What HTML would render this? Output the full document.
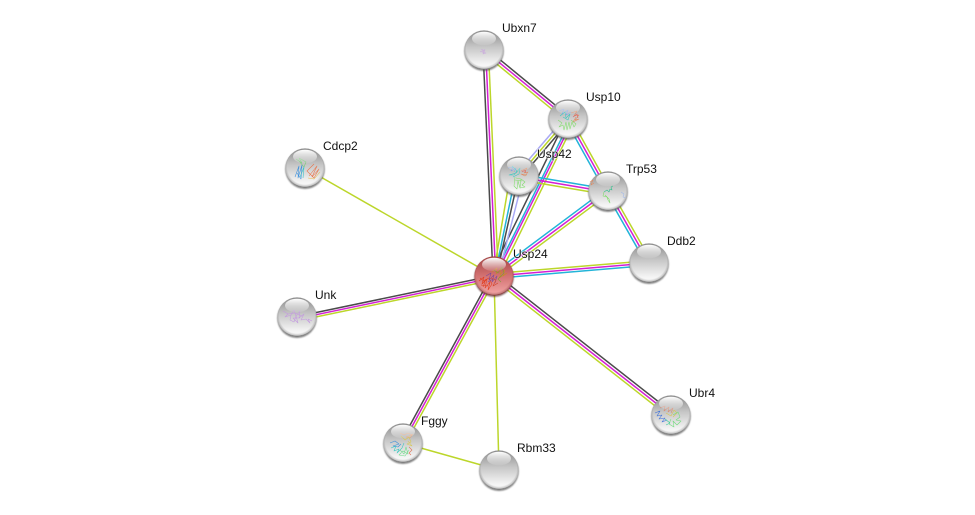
<!DOCTYPE html>
<html><head><meta charset="utf-8">
<style>
html,body{margin:0;padding:0;background:#fff}
svg{display:block}
text{font-family:"Liberation Sans",sans-serif;font-size:12px;fill:#111;paint-order:stroke;stroke:#fff;stroke-width:1.5px;stroke-opacity:.75}
.k,.m,.g,.c,.p{fill:none;stroke-width:1.5}
.k{stroke:#4a4a4a}.m{stroke:#d41fd4}.g{stroke:#bcd62a}.c{stroke:#22b4d8}.p{stroke:#a9a9f5}
.s{fill:none;stroke-width:.55;stroke-linejoin:round}
</style></head><body>
<svg width="975" height="515" viewBox="0 0 975 515" xmlns="http://www.w3.org/2000/svg">
<defs>
<filter id="bl" x="-20%" y="-20%" width="140%" height="140%"><feGaussianBlur stdDeviation=".8"/></filter>
<linearGradient id="bg" x1="0" y1="0" x2="0" y2="1"><stop offset="0" stop-color="#8c8c8c"/><stop offset=".42" stop-color="#c6c6c6"/><stop offset=".85" stop-color="#f4f4f4"/><stop offset="1" stop-color="#fafafa"/></linearGradient>
<linearGradient id="rbg" x1="0" y1="0" x2="0" y2="1"><stop offset="0" stop-color="#a34545"/><stop offset=".45" stop-color="#cf6d6d"/><stop offset="1" stop-color="#f4a8a8"/></linearGradient>
<radialGradient id="rim" cx=".5" cy=".46" r=".54"><stop offset=".84" stop-color="#555" stop-opacity="0"/><stop offset=".94" stop-color="#555" stop-opacity=".3"/><stop offset="1" stop-color="#444" stop-opacity=".95"/></radialGradient>
<radialGradient id="rrim" cx=".5" cy=".46" r=".54"><stop offset=".84" stop-color="#622" stop-opacity="0"/><stop offset=".94" stop-color="#622" stop-opacity=".3"/><stop offset="1" stop-color="#511" stop-opacity=".95"/></radialGradient>
<linearGradient id="hl" x1="0" y1="0" x2="0" y2="1"><stop offset="0" stop-color="#fff" stop-opacity="1"/><stop offset="1" stop-color="#fff" stop-opacity=".08"/></linearGradient>
<g id="b"><circle cy="1.2" r="19.8" fill="#444" opacity=".65" filter="url(#bl)"/><circle r="19.6" fill="url(#bg)"/><circle r="19.6" fill="url(#rim)"/></g>
<g id="rb"><circle cy="1.2" r="19.8" fill="#522" opacity=".65" filter="url(#bl)"/><circle r="19.6" fill="url(#rbg)"/><circle r="19.6" fill="url(#rrim)"/></g>
<g id="h"><ellipse cy="-11.5" rx="12" ry="6.8" fill="url(#hl)"/></g>
</defs>
<rect width="975" height="515" fill="#fff"/>

<!-- Usp24-Ubxn7 -->
<line class="k" x1="483" y1="50" x2="493" y2="276"/>
<line class="m" x1="485.7" y1="50" x2="495.7" y2="276"/>
<line class="g" x1="488.4" y1="50" x2="498.4" y2="276"/>
<!-- Ubxn7-Usp10 -->
<line class="k" x1="485.7" y1="47.9" x2="569.7" y2="116.9"/>
<line class="m" x1="484" y1="50" x2="568" y2="119"/>
<line class="g" x1="482.3" y1="52.1" x2="566.3" y2="121.1"/>
<!-- Usp10-Usp42 -->
<line class="p" x1="563.7" y1="119" x2="514.7" y2="176"/>
<line class="g" x1="567.4" y1="119" x2="518.4" y2="176"/>
<line class="k" x1="571" y1="119" x2="522" y2="176"/>
<!-- Usp10-Usp24 -->
<line class="k" x1="565.3" y1="121" x2="492.7" y2="270"/>
<line class="c" x1="569.6" y1="122" x2="496.6" y2="270"/>
<line class="m" x1="571.9" y1="122" x2="498.6" y2="270"/>
<line class="g" x1="574.5" y1="122" x2="502" y2="270"/>
<!-- Usp42-Usp24 -->
<line class="g" x1="509.4" y1="180" x2="494.1" y2="270"/>
<line class="c" x1="514.6" y1="180" x2="496" y2="270"/>
<line class="k" x1="517.8" y1="180" x2="497.7" y2="270"/>
<line class="p" x1="522.6" y1="180" x2="499.7" y2="270"/>
<!-- Usp10-Trp53 -->
<line class="c" x1="565.6" y1="120.3" x2="605.6" y2="192.3"/>
<line class="m" x1="568" y1="119" x2="608" y2="191"/>
<line class="g" x1="570.4" y1="117.7" x2="610.4" y2="189.7"/>
<!-- Usp42-Trp53 -->
<line class="c" x1="519.4" y1="174.3" x2="608.4" y2="189.3"/>
<line class="m" x1="519" y1="177" x2="608" y2="192"/>
<line class="g" x1="518.6" y1="179.7" x2="607.6" y2="194.7"/>
<!-- Usp24-Trp53 -->
<line class="c" x1="492.4" y1="273.8" x2="606.4" y2="188.8"/>
<line class="m" x1="494" y1="276" x2="608" y2="191"/>
<line class="g" x1="495.6" y1="278.2" x2="609.6" y2="193.2"/>
<!-- Trp53-Ddb2 -->
<line class="c" x1="605.6" y1="192.3" x2="646.6" y2="264.3"/>
<line class="m" x1="608" y1="191" x2="649" y2="263"/>
<line class="g" x1="610.4" y1="189.7" x2="651.4" y2="261.7"/>
<!-- Usp24-Ddb2 -->
<line class="g" x1="494" y1="273.6" x2="649" y2="260.6"/>
<line class="m" x1="494" y1="276" x2="649" y2="263"/>
<line class="c" x1="494" y1="278.4" x2="649" y2="265.4"/>
<!-- Usp24-Cdcp2 -->
<line class="g" x1="494" y1="276" x2="305" y2="168"/>
<!-- Usp24-Unk -->
<line class="k" x1="297" y1="316.5" x2="494" y2="275.5"/>
<line class="m" x1="297" y1="318.7" x2="494" y2="277.7"/>
<line class="g" x1="297" y1="320.9" x2="494" y2="279.9"/>
<!-- Usp24-Fggy -->
<line class="k" x1="400.9" y1="441.9" x2="491.9" y2="274.9"/>
<line class="m" x1="403" y1="443" x2="494" y2="276"/>
<line class="g" x1="405.1" y1="444.1" x2="496.1" y2="277.1"/>
<!-- Usp24-Rbm33 -->
<line class="g" x1="494" y1="276" x2="499" y2="470"/>
<!-- Fggy-Rbm33 -->
<line class="g" x1="403" y1="443" x2="499" y2="470"/>
<!-- Usp24-Ubr4 -->
<line class="k" x1="495.7" y1="273.9" x2="672.7" y2="412.9"/>
<line class="m" x1="494" y1="276" x2="671" y2="415"/>
<line class="g" x1="492.3" y1="278.1" x2="669.3" y2="417.1"/>

<!-- Ubxn7 -->
<g transform="translate(484,50)"><use href="#b"/>
<path class="s" stroke="#c9a9dd" d="M-3 -1 L1 1 L-2 2 L2 3 L-1 4 L1 -1 M-4 2 L0 0"/><use href="#h"/></g>
<!-- Usp10 -->
<g transform="translate(568,119)"><use href="#b"/>
<path class="s" stroke="#7da0e8" d="M-9 -8 L-4 -10 L-6 -5 L0 -9 L-2 -4 L3 -7"/>
<path class="s" stroke="#38c8c0" d="M-8 -3 L-3 -7 L-2 -1 L2 -5 L0 1 L-5 -2"/>
<path class="s" stroke="#e08a60" d="M3 -6 L9 -8 L6 -3 L11 -4 L7 1 L11 0 L5 3 L8 -2"/>
<path class="s" stroke="#e06060" d="M5 -2 L9 -5 L10 -1"/>
<path class="s" stroke="#7fdc6a" d="M-10 1 L-6 4 L-9 8 L-5 6 L-4 11 L-2 3 L-1 11 L1 3 L2 10 L4 3 L6 8 L8 5 L3 1"/>
<use href="#h"/></g>
<!-- Usp42 -->
<g transform="translate(519,176)"><use href="#b"/>
<path class="s" stroke="#7da0e8" d="M-11 -8 L-6 -9 L-8 -5 L-3 -8 L-5 -4"/>
<path class="s" stroke="#38c8c0" d="M-7 -10 L-2 -5 L-5 -1 L-10 -1 L-3 -3 L1 -8 L0 -2 L-6 1"/>
<path class="s" stroke="#e08a60" d="M2 -5 L8 -8 L5 -3 L9 -4 L6 0 L2 -2 L8 -1"/>
<path class="s" stroke="#e06060" d="M3 -4 L6 -6 L7 -3"/>
<path class="s" stroke="#7fdc6a" d="M-4 1 L-5 10 L-2 13 L-1 5 L1 12 L2 3 L-3 2 M2 3 L6 6 L3 9 L6 11 L1 12 M-4 4 L3 5"/>
<use href="#h"/></g>
<!-- Trp53 -->
<g transform="translate(608,191)"><use href="#b"/>
<path class="s" stroke="#e08a60" d="M-18 -9 L-15 -11 L-17 -6 L-14 -8"/>
<path class="s" stroke="#2fc08a" stroke-width="1.1" d="M-4 1 L-1 -1 L1 1 L2 -2 L4 -1 L3 -4 L5 -5"/>
<path class="s" stroke="#7fdc6a" d="M-4 1 L-5 5 L-1 6 L0 9 L2 12 L1 8 L-3 4"/>
<path class="s" stroke="#a0b8e8" d="M13 1 L16 3 L15 6 L18 7"/>
<use href="#h"/></g>
<!-- Ddb2 -->
<g transform="translate(649,263)"><use href="#b"/><use href="#h"/></g>
<!-- Cdcp2 -->
<g transform="translate(305,168)"><use href="#b"/>
<path class="s" stroke="#6ecb6e" stroke-width=".8" d="M-9 -9 L-3 -5 L-6 -10 L1 -6 L-1 -1 L-6 -7"/>
<path class="s" stroke="#3a8fdc" stroke-width=".8" d="M-10 9 L-6 -2 L-7 10 L-3 -3 L-4 11 L-8 5"/>
<path class="s" stroke="#30c0c8" stroke-width=".8" d="M-5 9 L-1 -1 L-2 10"/>
<path class="s" stroke="#e8734a" stroke-width=".8" d="M4 8 L12 -2 L7 9 L14 1 L9 10 L2 3 L9 -4"/>
<path class="s" stroke="#e8b84a" stroke-width=".8" d="M3 10 L9 11 L15 4"/>
<use href="#h"/></g>
<!-- Unk -->
<g transform="translate(297,317)"><use href="#b"/>
<path class="s" stroke="#c49ae0" stroke-width=".7" d="M-14 -6 L-9 -3 L-12 0 L-6 -2 L-3 -7 L-1 -1 L3 -6 L2 1 L7 -3 L4 3 L9 2 L13 6 L11 2 L15 4 M-6 -2 L-7 3 L-3 5 L-1 -1 L1 6 L-4 1 L3 1 M-9 -3 L-2 -4 L5 -1"/>
<use href="#h"/></g>
<!-- Fggy -->
<g transform="translate(403,443)"><use href="#b"/>
<path class="s" stroke="#e8a070" d="M-3 -10 L1 -8 L5 -10 L9 -8 L3 -6 L7 -5 L10 -9"/>
<path class="s" stroke="#d8c850" d="M-2 -7 L2 -3 L6 -6 L8 -1 L4 1 L9 3 L5 -2"/>
<path class="s" stroke="#3a8fdc" stroke-width=".8" d="M-13 0 L-8 -2 L-4 1 L-10 3 L-5 4 L-2 1"/>
<path class="s" stroke="#38c8c0" d="M-12 5 L-7 3 L-9 8 L-4 6 L-6 10 L-1 5 L1 0"/>
<path class="s" stroke="#6fdc8a" d="M-3 7 L1 11 L3 4 L5 11 L0 8 L-4 12 L2 13 L6 7"/>
<path class="s" stroke="#e07050" d="M6 4 L9 7 L6 10 L8 12"/>
<use href="#h"/></g>
<!-- Rbm33 -->
<g transform="translate(499,470)"><use href="#b"/><use href="#h"/></g>
<!-- Ubr4 -->
<g transform="translate(671,415)"><use href="#b"/>
<path class="s" stroke="#3a6fdc" stroke-width=".8" d="M-16 -2 L-11 -4 L-14 1 L-9 0 L-12 4 L-6 3 L-9 7 L-4 5"/>
<path class="s" stroke="#d88a70" stroke-width=".8" d="M-11 -7 L-6 -9 L-7 -4 L-2 -8 L-3 -3 L2 -7 L0 -2"/>
<path class="s" stroke="#d8c850" stroke-width=".8" d="M-5 -2 L0 1 L3 -5 L6 -2 L2 2"/>
<path class="s" stroke="#6fdc7a" stroke-width=".8" d="M2 0 L7 -3 L9 2 L5 5 L10 6 L6 10 L2 6 L3 12 L-2 9 L0 4"/>
<path class="s" stroke="#38c8a0" d="M-6 4 L-1 8 L-5 10"/>
<use href="#h"/></g>
<!-- Usp24 -->
<g transform="translate(494,276)"><use href="#rb"/>
<path class="s" stroke="#e23a1a" stroke-width="1" d="M-15 5 L-10 1 L-12 8 L-7 3 L-9 12 L-4 6 L-6 14 L-2 8 L-5 2 L-11 5 M-13 9 L-6 10 M-14 2 L-9 6 L-11 11"/>
<path class="s" stroke="#7a4aa0" stroke-width=".9" d="M-8 0 L-3 -3 L-5 4 L0 -1 L-2 6 L3 0 L1 7 M-6 6 L-1 3"/>
<path class="s" stroke="#c8882a" stroke-width="1" d="M-2 -4 L3 -8 L2 -2 L7 -8 L6 -2 L11 -6 L9 0 L13 -3 L5 2 L8 -4"/>
<path class="s" stroke="#7a9a3a" stroke-width=".8" d="M0 -6 L4 -3 L8 -9 L10 -3 L4 3 L7 6"/>
<path class="s" stroke="#d0402a" stroke-width=".8" d="M-3 2 L2 4 L-1 10 L4 7"/>
<use href="#h"/></g>

<text x="502" y="32">Ubxn7</text>
<text x="586" y="101">Usp10</text>
<text x="537" y="158">Usp42</text>
<text x="626" y="173">Trp53</text>
<text x="667" y="245">Ddb2</text>
<text x="323" y="150">Cdcp2</text>
<text x="513" y="258">Usp24</text>
<text x="315" y="299">Unk</text>
<text x="421" y="425">Fggy</text>
<text x="517" y="452">Rbm33</text>
<text x="689" y="397">Ubr4</text>
</svg>
</body></html>
